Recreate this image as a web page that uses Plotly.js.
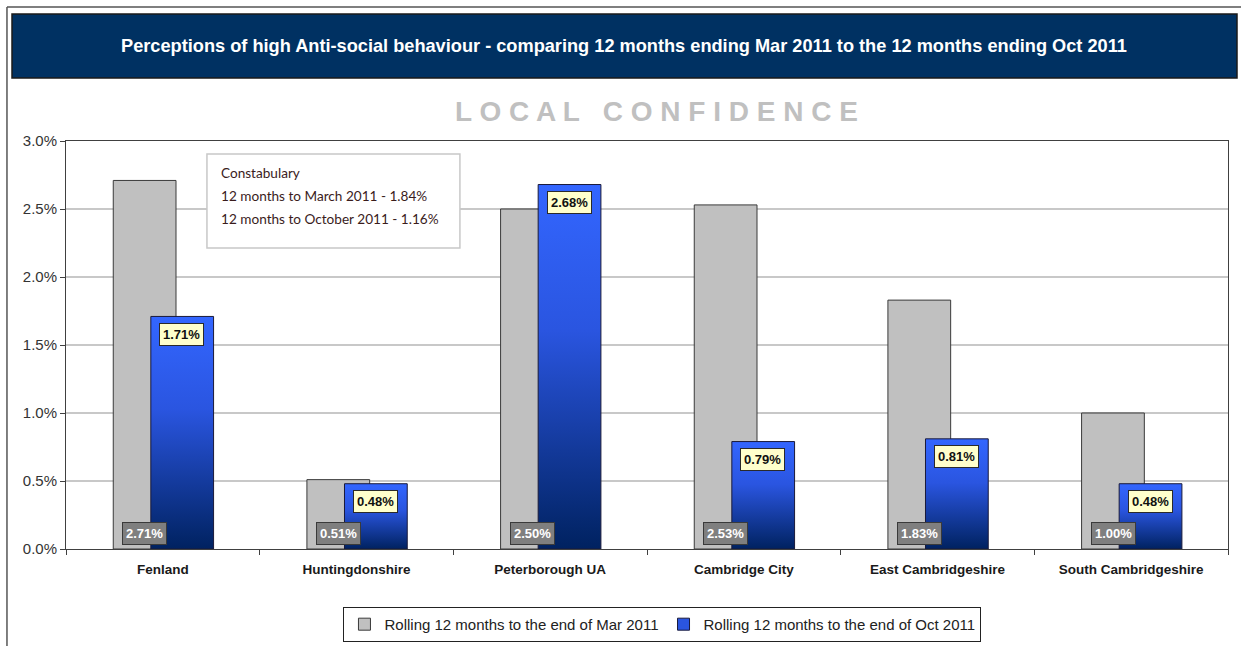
<!DOCTYPE html>
<html>
<head>
<meta charset="utf-8">
<script src="https://cdn.plot.ly/plotly-3.0.1.min.js"></script>
<style>html,body{margin:0;padding:0;background:#fff;}#chart{width:1241px;height:646px;}</style>
</head>
<body>
<div id="chart"></div>
<script>
const categories = ["Fenland", "Huntingdonshire", "Peterborough UA", "Cambridge City", "East Cambridgeshire", "South Cambridgeshire"];
const seriesNames = ["Rolling 12 months to the end of Mar 2011", "Rolling 12 months to the end of Oct 2011"];
const mar2011 = [2.71, 0.51, 2.50, 2.53, 1.83, 1.00];
const oct2011 = [1.71, 0.48, 2.68, 0.79, 0.81, 0.48];
const yTicks = [0, 0.5, 1.0, 1.5, 2.0, 2.5, 3.0];
const chartTitle = "Perceptions of high Anti-social behaviour - comparing 12 months ending Mar 2011 to the 12 months ending Oct 2011";
const subTitle = "L O C A L   C O N F I D E N C E";
const noteLines = ["Constabulary", "12 months to March 2011 - 1.84%", "12 months to October 2011 - 1.16%"];

const NARROW = "Liberation Sans Narrow, Arial Narrow, Liberation Sans, Arial, sans-serif";
const ARIAL = "Liberation Sans, Arial, sans-serif";

const traces = [
  {
    type: "bar", name: seriesNames[0], x: categories, y: mar2011,
    offset: -0.256, width: 0.324,
    marker: {color: "#c0c0c0", line: {color: "#3a3a3a", width: 1}},
    hoverinfo: "none"
  },
  {
    type: "bar", name: seriesNames[1], x: categories, y: oct2011,
    offset: -0.062, width: 0.324,
    marker: {color: "#2a55e0", line: {color: "#1a1a3a", width: 1}},
    hoverinfo: "none"
  }
];

const annotations = [];
categories.forEach((c, i) => {
  annotations.push({
    x: c, y: 0, xref: "x", yref: "y", text: "<b>" + mar2011[i].toFixed(2) + "%</b>",
    showarrow: false, xanchor: "center", yanchor: "middle", xshift: -18, yshift: 16,
    bgcolor: "#7f7f7f", bordercolor: "#3a3a3a", borderwidth: 1, borderpad: 3,
    font: {family: NARROW, size: 13, color: "#ffffff"}
  });
  annotations.push({
    x: c, y: oct2011[i], xref: "x", yref: "y", text: "<b>" + oct2011[i].toFixed(2) + "%</b>",
    showarrow: false, xanchor: "center", yanchor: "middle", xshift: 19, yshift: -18,
    bgcolor: "#ffffcc", bordercolor: "#2a2a2a", borderwidth: 1, borderpad: 3,
    font: {family: NARROW, size: 13, color: "#111111"}
  });
});
annotations.push({
  xref: "paper", yref: "paper", x: 0.4806, y: 1.2328, xanchor: "center", yanchor: "middle",
  text: "<b>" + chartTitle + "</b>", showarrow: false,
  font: {family: NARROW, size: 18.2, color: "#ffffff"}
});
annotations.push({
  xref: "paper", yref: "paper", x: 0.5086, y: 1.0735, xanchor: "center", yanchor: "middle",
  text: "<b>" + subTitle + "</b>", showarrow: false,
  font: {family: NARROW, size: 28, color: "#c0c0c0"}
});
const noteY = [0.9216, 0.8652, 0.8088];
noteLines.forEach((t, k) => {
  annotations.push({
    xref: "paper", yref: "paper", x: 0.1317, y: noteY[k], xanchor: "left", yanchor: "middle",
    text: t, showarrow: false, font: {family: "Lato, Open Sans, sans-serif", size: 13.6, color: "#3a1c1c"}
  });
});

const shapes = [
  {type: "line", xref: "paper", yref: "paper", x0: -0.0508, x1: 1.02, y0: 1.3284, y1: 1.3284, line: {color: "#555555", width: 1.5}},
  {type: "line", xref: "paper", yref: "paper", x0: -0.0508, x1: -0.0508, y0: 1.3284, y1: -0.25, line: {color: "#555555", width: 1.5}},
  {type: "rect", xref: "paper", yref: "paper", x0: -0.04647, x1: 1.00775, y0: 1.15441, y1: 1.31127, fillcolor: "#003162", line: {color: "#1a1a1a", width: 1.5}},
  {type: "rect", xref: "paper", yref: "paper", x0: 0.1213, x1: 0.339, y0: 0.7377, y1: 0.968, fillcolor: "#ffffff", line: {color: "#c8c8c8", width: 1.5}, layer: "above"}
];

const layout = {
  width: 1241, height: 646,
  margin: {l: 66, r: 13, t: 141, b: 97, pad: 0, autoexpand: false},
  paper_bgcolor: "#ffffff", plot_bgcolor: "#ffffff",
  barmode: "overlay", showlegend: true,
  font: {family: ARIAL, color: "#222"},
  xaxis: {
    type: "category", range: [-0.5, 5.5], showgrid: false,
    showline: true, linecolor: "#404040", linewidth: 1, mirror: true,
    ticks: "outside", tickson: "boundaries", ticklen: 5, tickcolor: "#404040",
    ticklabelstandoff: 8,
    tickfont: {family: NARROW, size: 13.5, color: "#1a1a1a", weight: "bold"},
    fixedrange: true, automargin: false
  },
  yaxis: {
    range: [0, 3.0], tickvals: yTicks, ticktext: yTicks.map(v => v.toFixed(1) + "%"),
    showgrid: true, gridcolor: "#c8c8c8", gridwidth: 1.5,
    showline: true, linecolor: "#404040", linewidth: 1, mirror: true,
    ticks: "outside", ticklen: 5, tickcolor: "#404040",
    tickfont: {family: ARIAL, size: 15, color: "#333333"},
    zeroline: false, fixedrange: true, automargin: false
  },
  legend: {
    orientation: "h", x: 0.5133, xanchor: "center", y: -0.142, yanchor: "top",
    bordercolor: "#222222", borderwidth: 1, bgcolor: "#ffffff",
    font: {family: NARROW, size: 15, color: "#222222"},
    itemwidth: 30, tracegroupgap: 0
  },
  annotations: annotations,
  shapes: shapes
};

Plotly.newPlot("chart", traces, layout, {displayModeBar: false, staticPlot: true}).then(gd => {
  const svg = gd.querySelector(".main-svg");
  let defs = svg.querySelector("defs");
  const ns = "http://www.w3.org/2000/svg";
  const grad = document.createElementNS(ns, "linearGradient");
  grad.setAttribute("id", "blueGrad");
  grad.setAttribute("x1", "0"); grad.setAttribute("y1", "0");
  grad.setAttribute("x2", "0"); grad.setAttribute("y2", "1");
  [["0", "#3366ff"], ["0.4", "#2a55e0"], ["1", "#002260"]].forEach(s => {
    const st = document.createElementNS(ns, "stop");
    st.setAttribute("offset", s[0]); st.setAttribute("stop-color", s[1]);
    grad.appendChild(st);
  });
  defs.appendChild(grad);
  const barTraces = gd.querySelectorAll(".barlayer .trace");
  if (barTraces.length > 1) {
    barTraces[1].querySelectorAll("path").forEach(p => { p.style.fill = "url(#blueGrad)"; });
  }
});
</script>
</body>
</html>
